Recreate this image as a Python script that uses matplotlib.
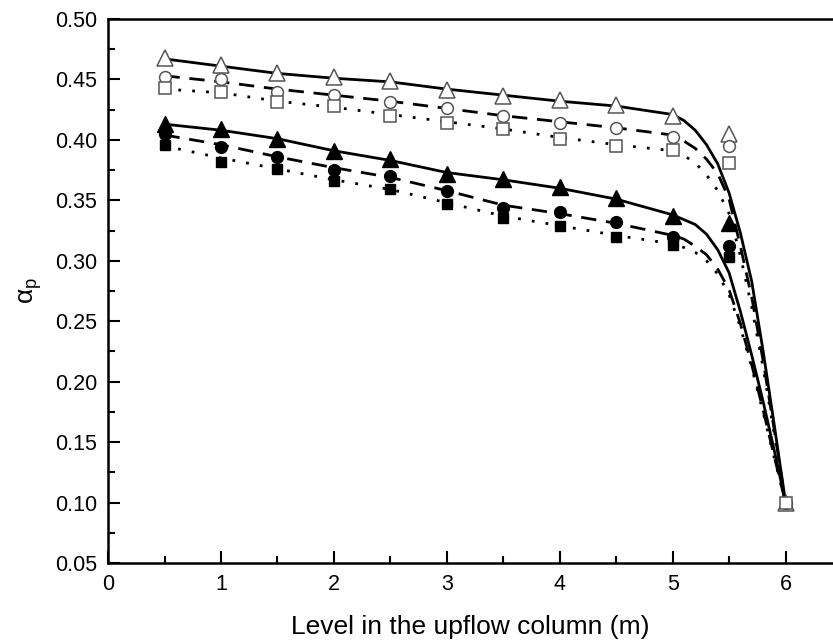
import matplotlib
matplotlib.use('Agg')
import matplotlib.pyplot as plt
from matplotlib.ticker import MultipleLocator, FormatStrFormatter

plt.rcParams['font.family'] = ['Liberation Sans', 'DejaVu Sans']
plt.rcParams['mathtext.fontset'] = 'custom'
plt.rcParams['mathtext.rm'] = 'Liberation Sans'

# measured points
x_pts = [0.5, 1.0, 1.5, 2.0, 2.5, 3.0, 3.5, 4.0, 4.5, 5.0, 5.5, 6.0]
open_tri = [0.468, 0.462, 0.455, 0.452, 0.449, 0.441, 0.436, 0.433, 0.429, 0.420, 0.405, 0.100]
open_circ = [0.452, 0.450, 0.440, 0.437, 0.431, 0.426, 0.420, 0.414, 0.410, 0.402, 0.395, 0.100]
open_sq = [0.443, 0.440, 0.431, 0.428, 0.420, 0.414, 0.409, 0.401, 0.395, 0.392, 0.381, 0.100]
fill_tri = [0.413, 0.409, 0.401, 0.391, 0.384, 0.372, 0.368, 0.361, 0.352, 0.337, 0.331]
fill_circ = [0.405, 0.394, 0.386, 0.375, 0.370, 0.358, 0.344, 0.340, 0.332, 0.320, 0.312]
fill_sq = [0.396, 0.382, 0.376, 0.366, 0.359, 0.347, 0.335, 0.329, 0.320, 0.313, 0.303]

# model curves
x_mod = [0.5, 1.0, 1.5, 2.0, 2.5, 3.0, 3.5, 4.0, 4.5, 5.0,
         5.1, 5.2, 5.3, 5.4, 5.5, 5.6, 5.7, 5.8, 5.9, 6.0]
mod_up_solid = [0.467, 0.461, 0.455, 0.451, 0.448, 0.442, 0.437, 0.432, 0.428, 0.421,
                0.416, 0.408, 0.396, 0.380, 0.356, 0.323, 0.283, 0.226, 0.164, 0.100]
mod_up_dash = [0.453, 0.448, 0.442, 0.437, 0.432, 0.426, 0.420, 0.415, 0.410, 0.404,
               0.399, 0.393, 0.384, 0.372, 0.351, 0.312, 0.270, 0.218, 0.160, 0.100]
mod_up_dot = [0.442, 0.439, 0.432, 0.427, 0.421, 0.415, 0.409, 0.402, 0.396, 0.391,
              0.387, 0.381, 0.371, 0.358, 0.339, 0.304, 0.262, 0.212, 0.157, 0.100]
mod_lo_solid = [0.413, 0.408, 0.401, 0.391, 0.383, 0.373, 0.367, 0.360, 0.351, 0.338,
                0.334, 0.330, 0.322, 0.309, 0.290, 0.258, 0.222, 0.184, 0.143, 0.100]
mod_lo_dash = [0.404, 0.396, 0.386, 0.377, 0.369, 0.358, 0.346, 0.339, 0.331, 0.321,
               0.318, 0.312, 0.305, 0.293, 0.276, 0.248, 0.214, 0.177, 0.138, 0.100]
mod_lo_dot = [0.395, 0.385, 0.376, 0.367, 0.359, 0.348, 0.337, 0.329, 0.321, 0.314,
              0.311, 0.307, 0.300, 0.289, 0.272, 0.245, 0.212, 0.175, 0.137, 0.100]

fig = plt.figure(figsize=(8.33, 6.44), dpi=100)
ax = fig.add_axes([0.1297, 0.1258, 0.8703, 0.8447])

lw = 2.0
dash = (0, (5.5, 3.5))
dot = (0, (1.0, 4.0))
ax.plot(x_mod, mod_up_solid, color='black', lw=lw, ls='-')
ax.plot(x_mod, mod_up_dash, color='black', lw=lw, ls=dash)
ax.plot(x_mod, mod_up_dot, color='black', lw=lw, ls=dot)
ax.plot(x_mod, mod_lo_solid, color='black', lw=lw, ls='-')
ax.plot(x_mod, mod_lo_dash, color='black', lw=lw, ls=dash)
ax.plot(x_mod, mod_lo_dot, color='black', lw=lw, ls=dot)

n = len(fill_tri)
ax.plot(x_pts[:n], fill_tri, ls='none', marker='^', ms=11, color='black')
ax.plot(x_pts[:n], fill_circ, ls='none', marker='o', ms=8.5, color='black')
ax.plot(x_pts[:n], fill_sq, ls='none', marker='s', ms=7.5, color='black')

ax.plot(x_pts, open_tri, ls='none', marker='^', ms=11, mfc='white', mec='#555555', mew=1.1)
ax.plot(x_pts, open_circ, ls='none', marker='o', ms=8.5, mfc='white', mec='#555555', mew=1.1)
ax.plot(x_pts, open_sq, ls='none', marker='s', ms=8, mfc='white', mec='#555555', mew=1.1)

ax.set_xlim(0, 6.42)
ax.set_ylim(0.05, 0.50)
ax.xaxis.set_major_locator(MultipleLocator(1))
ax.xaxis.set_minor_locator(MultipleLocator(0.5))
ax.yaxis.set_major_locator(MultipleLocator(0.05))
ax.yaxis.set_minor_locator(MultipleLocator(0.025))
ax.yaxis.set_major_formatter(FormatStrFormatter('%.2f'))

ax.spines['right'].set_visible(False)
for s in ['left', 'bottom', 'top']:
    ax.spines[s].set_linewidth(1.8)

ax.tick_params(which='both', direction='in', width=1.5, labelsize=15.5)
ax.tick_params(which='major', length=8.5, pad=8)
ax.tick_params(which='minor', length=5)

ax.set_xlabel('Level in the upflow column (m)', fontsize=19, labelpad=14)
ax.set_ylabel(r'α$_\mathrm{p}$', fontsize=19, labelpad=8)

fig.savefig('out.png', dpi=100)
